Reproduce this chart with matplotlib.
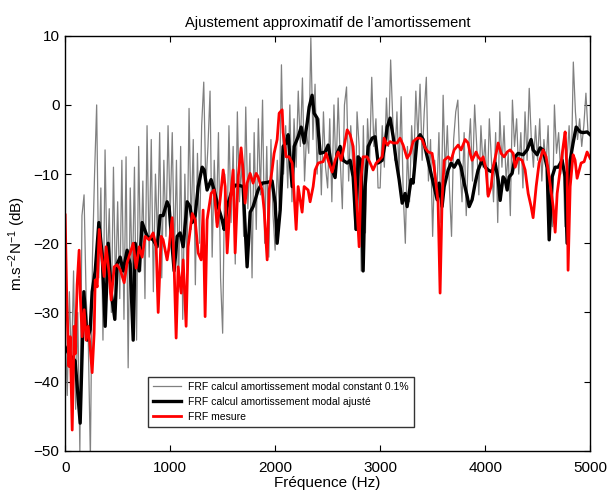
"""FRF comparison: constant modal damping vs fitted damping vs measurement."""

import matplotlib

matplotlib.use("Agg")
import matplotlib.pyplot as plt
import numpy as np

# gray curve: FRF with constant 0.1 % modal damping, every 20 Hz
gray_freq = np.arange(0, 5000, 20)
gray_db = [
    -32, -42, -27, -38, -24, -44, -30, -50, -16, -13, -28, -34, -51, -22, -10, 0, -25, -12, -34, -6.5, -24, -15, -30, -9, -27,
    -14, -28, -8, -31, -7.5, -38, -12, -26, -9, -34, -6, -24, -11, -28, -3, -22, -5, -27, -10, -20, -4, -25, -8, -19, -3,
    -16, -4, -22, -8, -27, -6, -31, -10, -24, -0.5, -18, -5, -26, -7, -20, -3, 3.3, -12, -6, 2, -22, -8, -17, -4, -25,
    -33, -10, -21, -3, -17, -6, -23, -1, -14, -8, -19, -0.3, -15, -7, -25, -4, -18, -2, -13, 0.7, -20, -6, -22, -5, -16,
    -21, -8, -15, 5.8, -10, -3, -12, 0, -14, -2, -9, 2, -6, 3.9, -11, -4, -7, 9.7, -5, 3, -10, -2, -13, -1, -9,
    -12, -2, -14, 0, -10, 1, -8, -15, 0, 2.6, -11, -3, -9, -18, -1, -6, -24, -3, -18.5, -2, -8, 4, -6, -2, -12,
    -12, -3, -9, 1, -6, 6.5, -2, -8, -1, -10, 1.2, -13, -20, -6, -14, -3, -9, 2, -5, 3, -8, -1, 4, -11, -5,
    -19, -8, -13, -4, -17, 1.4, -10, -3, -12, -19, -5, -1, 0.7, -9, -14, -4, -16, -7, -2, -11, 0, -6, -13, -3, -9,
    -5, -13, -2, -8, -14, -4, -17, -1, -9, -3, -11, -7, -16, 0.7, -6, -2, -10, -4, -12, -1, -8, 2.4, -5, -9, -3,
    -8, -2, -11, -5, -9, -3, -14, -17.6, 0, -7, -4, -10, -6, -17.6, -8, -3, -10, 6.2, -1, -5, -2, -6, -3, 1.7, -4,
]

# black curve: FRF with fitted modal damping
black_freq = [
    0, 35, 95, 143, 178, 210, 238, 257, 286, 321, 352, 381, 410, 438, 473, 495, 524, 552, 590, 619,
    648, 667, 705, 733, 781, 838, 876, 905, 933, 971, 990, 1019, 1038, 1067, 1095, 1124, 1162, 1190, 1210, 1238,
    1267, 1305, 1324, 1352, 1390, 1419, 1457, 1495, 1514, 1543, 1590, 1619, 1648, 1695, 1733, 1762, 1790, 1838, 1876, 1924,
    1971, 2000, 2019, 2048, 2076, 2105, 2124, 2143, 2162, 2181, 2219, 2248, 2276, 2305, 2324, 2352, 2371, 2400, 2429, 2476,
    2505, 2543, 2571, 2590, 2619, 2648, 2686, 2714, 2743, 2771, 2790, 2819, 2838, 2857, 2886, 2924, 2952, 2981, 3019, 3048,
    3067, 3095, 3124, 3152, 3181, 3210, 3238, 3257, 3295, 3314, 3352, 3381, 3410, 3448, 3476, 3505, 3543, 3562, 3590, 3610,
    3648, 3676, 3705, 3743, 3771, 3800, 3829, 3848, 3876, 3905, 3933, 3971, 4000, 4029, 4067, 4095, 4124, 4143, 4171, 4190,
    4210, 4229, 4257, 4286, 4314, 4362, 4400, 4438, 4457, 4495, 4524, 4552, 4590, 4610, 4638, 4667, 4695, 4733, 4762, 4781,
    4810, 4838, 4867, 4905, 4933, 4971, 5000,
]
black_db = [
    -35, -36, -37, -46, -27, -34, -32.5, -27, -24, -17, -21.5, -32, -20, -27, -31, -23, -22, -24, -21, -23,
    -34, -20, -24, -17, -19, -19.5, -20.5, -16, -16, -14, -14.7, -20.5, -24, -19, -18.5, -20.5, -14, -14.7, -17, -16,
    -11.8, -9, -9.4, -12.3, -10.8, -12.3, -14.7, -16.6, -18, -14.7, -12.3, -11.6, -11.6, -11.8, -23.4, -15.5, -14.7, -12.3, -11.3, -11.2,
    -11, -14.2, -20, -15.2, -6, -5.5, -4.3, -8, -11.8, -6, -4.6, -3.2, -5.5, -2.6, -0.3, 1.4, -1.2, -1.9, -7, -6.8,
    -5.8, -9.4, -10.5, -7, -6, -8, -8.4, -8, -10.4, -18, -7.5, -8, -24, -11.8, -6, -4.8, -4.6, -8.4, -8, -5.5,
    -3.2, -1.9, -4.6, -8, -10.8, -14.2, -12.8, -14.7, -10.8, -11.3, -5, -4.3, -5, -7.5, -9.4, -11.3, -13.7, -11.3, -14.7, -11.8,
    -9.4, -8.4, -9, -8, -9, -11.3, -13.2, -14.7, -13.7, -11.3, -9.4, -8, -9, -9.4, -9.7, -8.4, -10.8, -13.8, -10.4, -10.8,
    -12.3, -10.4, -9.9, -7.5, -7, -7.2, -6.5, -5, -6.5, -7.2, -6.2, -6.5, -9, -19.5, -10.4, -9, -9, -8, -10.4, -20,
    -8, -5.5, -3.2, -3.9, -4, -3.9, -4.3,
]

# red curve: measured FRF
red_freq = [
    0, 16, 35, 48, 67, 86, 95, 114, 133, 143, 162, 181, 200, 219, 238, 257, 276, 286, 305, 324,
    343, 371, 390, 419, 438, 467, 495, 524, 562, 590, 619, 648, 676, 705, 733, 762, 800, 838, 867, 886,
    914, 933, 971, 990, 1019, 1038, 1057, 1076, 1105, 1124, 1152, 1171, 1210, 1238, 1267, 1295, 1314, 1333, 1352, 1390,
    1419, 1448, 1476, 1505, 1524, 1543, 1571, 1600, 1619, 1648, 1676, 1695, 1714, 1733, 1762, 1790, 1819, 1838, 1876, 1895,
    1924, 1943, 1971, 1990, 2019, 2038, 2067, 2076, 2105, 2133, 2162, 2171, 2200, 2219, 2257, 2276, 2314, 2333, 2362, 2381,
    2410, 2457, 2486, 2505, 2543, 2571, 2600, 2629, 2657, 2686, 2714, 2743, 2762, 2781, 2800, 2819, 2838, 2876, 2905, 2933,
    2962, 2990, 3019, 3038, 3067, 3095, 3124, 3162, 3190, 3219, 3257, 3286, 3314, 3352, 3381, 3400, 3429, 3457, 3495, 3514,
    3543, 3552, 3571, 3590, 3610, 3648, 3676, 3705, 3743, 3771, 3810, 3838, 3857, 3876, 3914, 3933, 3962, 3981, 4010, 4029,
    4057, 4076, 4105, 4124, 4152, 4181, 4210, 4238, 4267, 4286, 4314, 4352, 4381, 4410, 4438, 4457, 4486, 4514, 4552, 4581,
    4610, 4648, 4667, 4686, 4714, 4743, 4762, 4781, 4790, 4810, 4838, 4857, 4876, 4914, 4943, 4971, 5000,
]
red_db = [
    -15.9, -28.6, -37.8, -33.5, -47, -32, -36, -26, -21, -27.2, -33.5, -29.6, -34, -32, -35, -38.7, -33, -25.3, -26.3, -18,
    -21.4, -24.8, -20.5, -24.3, -28.2, -23.4, -23.1, -23.8, -25.7, -22.8, -21.4, -20, -23.6, -20.5, -22, -19, -19.5, -18.5, -20.5, -30,
    -19, -19.5, -22.4, -20.5, -16.3, -23.4, -33.7, -23.4, -27.2, -22.4, -32, -20.5, -15.7, -16.6, -21.4, -22.4, -15.2, -30.6, -16.6, -12.8,
    -12.3, -17.6, -13.7, -9.4, -11.8, -21.4, -14.2, -9.4, -21.4, -10.4, -6.2, -9.4, -14.2, -11.3, -9.9, -11.3, -9.9, -10.4, -12.3, -15.2,
    -22.4, -12.3, -9.4, -7, -5, -1.2, -0.7, -4, -7.5, -7.5, -8.4, -10.4, -18, -11.8, -15.5, -11.8, -12.3, -14, -11.8, -9.4,
    -8.4, -8.2, -7, -8, -9.7, -8, -6.8, -8, -6, -3.6, -4.3, -6, -10.4, -15.2, -20.5, -10.4, -7.5, -7.5, -8.4, -9.4,
    -8.4, -8, -7.5, -4.8, -5.8, -5.3, -5.5, -5.5, -4.8, -5.8, -7.7, -7, -5.3, -4.8, -4.8, -5, -6.2, -6.8, -7, -9,
    -12.8, -14.2, -27.2, -13.7, -8, -7.5, -8, -6.5, -5.8, -6.5, -5, -5.5, -7, -8, -6.8, -7.5, -8, -7.5, -9.4, -13.2,
    -11.8, -9, -7, -5.5, -7, -7.5, -6.8, -6.5, -7, -9, -7.7, -8, -9.4, -12.8, -14.7, -16.3, -11.8, -8.4, -6.5, -7.5,
    -10.4, -14.7, -18.4, -12.8, -9.4, -6, -3.9, -9.9, -23.9, -11.8, -7.2, -8, -10.6, -8.4, -8.2, -6.8, -7.7,
]

x_ticks = [0, 1000, 2000, 3000, 4000, 5000]
y_ticks = [-50, -40, -30, -20, -10, 0, 10]

plt.rcParams["font.family"] = ["Liberation Sans", "DejaVu Sans"]
plt.rcParams["mathtext.default"] = "regular"

fig = plt.figure(figsize=(6.09, 4.90), dpi=100)
ax = fig.add_axes([0.107, 0.080, 0.862, 0.847])

ax.plot(gray_freq, gray_db, color="#808080", lw=0.9,
        label="FRF calcul amortissement modal constant 0.1%")
ax.plot(black_freq, black_db, color="black", lw=2.4,
        label="FRF calcul amortissement modal ajusté")
ax.plot(red_freq, red_db, color="#ff0000", lw=2.0, label="FRF mesure")

ax.set_xlim(0, 5000)
ax.set_ylim(-50, 10)
ax.set_xticks(x_ticks)
ax.set_yticks(y_ticks)
ax.tick_params(direction="in", top=True, right=True, labelsize=11, length=4)
ax.tick_params(axis="x", pad=7)
ax.tick_params(axis="y", pad=4)
for spine in ax.spines.values():
    spine.set_linewidth(1.0)

ax.set_xlabel("Fréquence (Hz)", fontsize=11, labelpad=1)
ax.set_ylabel(r"m.s$^{-2}$N$^{-1}$ (dB)", fontsize=11, labelpad=4)
ax.set_title("Ajustement approximatif de l’amortissement", fontsize=10.5, pad=6)

leg = ax.legend(loc="lower left", bbox_to_anchor=(0.158, 0.058), fontsize=7.5,
                frameon=True, fancybox=False, edgecolor="black",
                borderaxespad=0, handlelength=2.7, borderpad=0.45,
                labelspacing=0.5, handletextpad=0.7)
leg.get_frame().set_linewidth(1.0)

fig.savefig("out.png", dpi=100)
